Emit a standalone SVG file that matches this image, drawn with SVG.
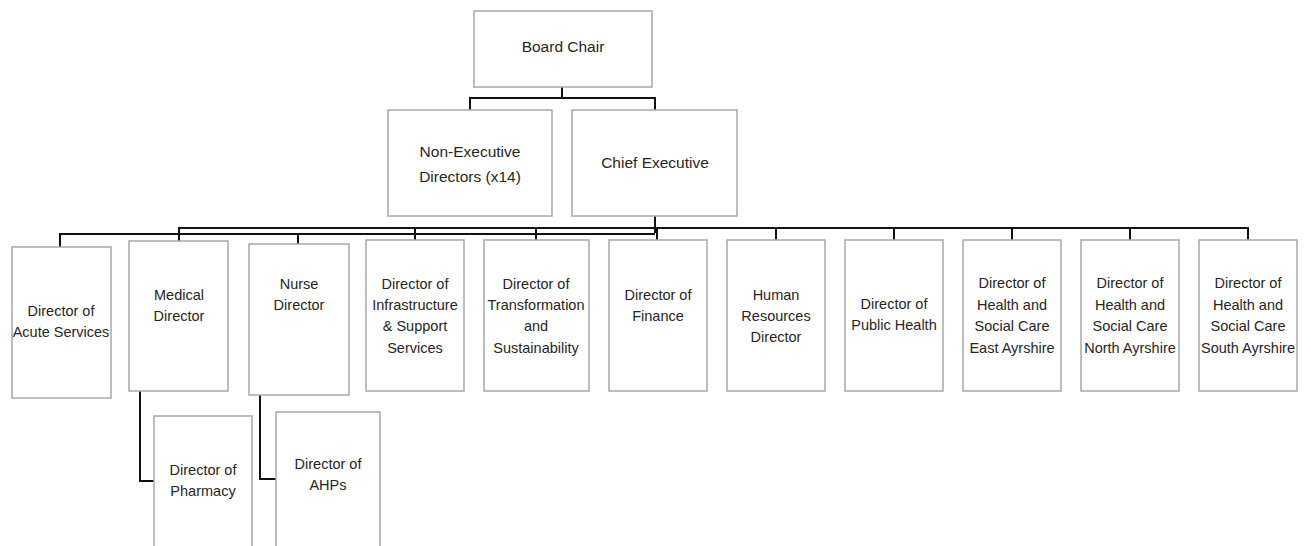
<svg xmlns="http://www.w3.org/2000/svg" width="1311" height="546" viewBox="0 0 1311 546">
<style>
.box{fill:#fff;stroke:#a8a8a8;stroke-width:1.5}
.t{font-family:"Liberation Sans",Arial,sans-serif;font-size:14.5px;fill:#262626;text-anchor:middle}
.tt{font-family:"Liberation Sans",Arial,sans-serif;font-size:15.5px;fill:#262626;text-anchor:middle}
.c{fill:none;stroke:#111;stroke-width:2}
</style>
<rect width="1311" height="546" fill="#fff"/>
<g id="connectors">
<path class="c" d="M562,87 V98 M470,110 V98 H655 V110"/>
<path class="c" d="M655,216 V233"/>
<path class="c" d="M179,241 V228 H1248 V240"/>
<path class="c" d="M415,228 V240 M536,228 V240 M657,228 V240 M776,228 V240 M894,228 V240 M1012,228 V240 M1130,228 V240"/>
<path class="c" d="M60,247 V234 H655"/>
<path class="c" d="M298,244 V233"/>
<path class="c" d="M140,391 V481 H154"/>
<path class="c" d="M260,395 V479 H276"/>
</g>
<g id="board-chair"><rect class="box" x="474" y="11" width="178" height="76"/><text class="tt" x="563" y="52">Board Chair</text></g>
<g id="non-exec"><rect class="box" x="388" y="110" width="164" height="106"/><text class="tt" x="470" y="157">Non-Executive</text><text class="tt" x="470" y="182">Directors (x14)</text></g>
<g id="chief-exec"><rect class="box" x="572" y="110" width="165" height="106"/><text class="tt" x="655" y="168">Chief Executive</text></g>
<g id="acute"><rect class="box" x="12" y="247" width="99" height="151"/><text class="t" x="61" y="316">Director of</text><text class="t" x="61" y="337">Acute Services</text></g>
<g id="medical"><rect class="box" x="129" y="241" width="99" height="150"/><text class="t" x="179" y="300">Medical</text><text class="t" x="179" y="321">Director</text></g>
<g id="nurse"><rect class="box" x="249" y="244" width="100" height="151"/><text class="t" x="299" y="289">Nurse</text><text class="t" x="299" y="310">Director</text></g>
<g id="pharmacy"><rect class="box" x="154" y="416" width="98" height="140"/><text class="t" x="203" y="475">Director of</text><text class="t" x="203" y="496">Pharmacy</text></g>
<g id="ahps"><rect class="box" x="276" y="412" width="104" height="144"/><text class="t" x="328" y="469">Director of</text><text class="t" x="328" y="490">AHPs</text></g>
<g id="infrastructure"><rect class="box" x="366" y="240" width="98" height="151"/><text class="t" x="415" y="289">Director of</text><text class="t" x="415" y="310">Infrastructure</text><text class="t" x="415" y="331">&amp; Support</text><text class="t" x="415" y="353">Services</text></g>
<g id="transformation"><rect class="box" x="484" y="240" width="105" height="151"/><text class="t" x="536" y="289">Director of</text><text class="t" x="536" y="310">Transformation</text><text class="t" x="536" y="331">and</text><text class="t" x="536" y="353">Sustainability</text></g>
<g id="finance"><rect class="box" x="609" y="240" width="98" height="151"/><text class="t" x="658" y="300">Director of</text><text class="t" x="658" y="321">Finance</text></g>
<g id="hr"><rect class="box" x="727" y="240" width="98" height="151"/><text class="t" x="776" y="300">Human</text><text class="t" x="776" y="321">Resources</text><text class="t" x="776" y="342">Director</text></g>
<g id="public-health"><rect class="box" x="845" y="240" width="98" height="151"/><text class="t" x="894" y="309">Director of</text><text class="t" x="894" y="330">Public Health</text></g>
<g id="hsc-east"><rect class="box" x="963" y="240" width="98" height="151"/><text class="t" x="1012" y="288">Director of</text><text class="t" x="1012" y="310">Health and</text><text class="t" x="1012" y="331">Social Care</text><text class="t" x="1012" y="353">East Ayrshire</text></g>
<g id="hsc-north"><rect class="box" x="1081" y="240" width="98" height="151"/><text class="t" x="1130" y="288">Director of</text><text class="t" x="1130" y="310">Health and</text><text class="t" x="1130" y="331">Social Care</text><text class="t" x="1130" y="353">North Ayrshire</text></g>
<g id="hsc-south"><rect class="box" x="1199" y="240" width="98" height="151"/><text class="t" x="1248" y="288">Director of</text><text class="t" x="1248" y="310">Health and</text><text class="t" x="1248" y="331">Social Care</text><text class="t" x="1248" y="353">South Ayrshire</text></g>
</svg>
